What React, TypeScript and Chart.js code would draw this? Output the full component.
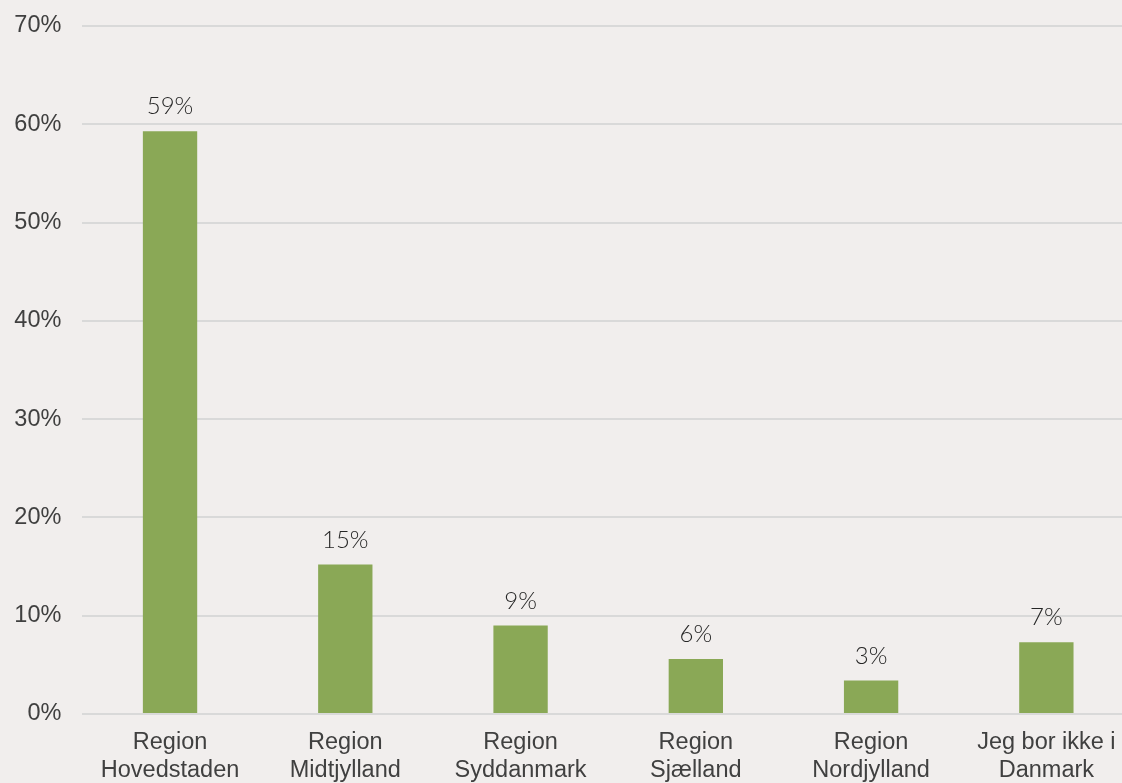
import React, { useEffect, useRef } from "react";
import { Chart, registerables } from "chart.js";

Chart.register(...registerables);

const categories: string[][] = [
  ["Region", "Hovedstaden"],
  ["Region", "Midtjylland"],
  ["Region", "Syddanmark"],
  ["Region", "Sjælland"],
  ["Region", "Nordjylland"],
  ["Jeg bor ikke i", "Danmark"],
];
const values: number[] = [59.3, 15.2, 9.0, 5.6, 3.4, 7.3];
const valueLabels: string[] = ["59%", "15%", "9%", "6%", "3%", "7%"];
const yTicks: number[] = [0, 10, 20, 30, 40, 50, 60, 70];

const BG = "#f1eeed";
const BAR = "#8aa856";
const TEXT = "#404040";
const LABEL_TEXT = "#262626";

const dataLabelPlugin = {
  id: "dataLabels",
  afterDatasetsDraw(chart: any) {
    const ctx = chart.ctx;
    const meta = chart.getDatasetMeta(0);
    ctx.save();
    ctx.font = "300 24px Lato";
    ctx.fillStyle = LABEL_TEXT;
    ctx.textAlign = "center";
    ctx.textBaseline = "alphabetic";
    meta.data.forEach((el: any, i: number) => {
      ctx.fillText(valueLabels[i], el.x, el.y - 17);
    });
    ctx.restore();
  },
};

export default function App() {
  const ref = useRef<HTMLCanvasElement | null>(null);
  useEffect(() => {
    if (!ref.current) return;
    const chart = new Chart(ref.current, {
      type: "bar",
      data: {
        labels: categories,
        datasets: [
          {
            data: values,
            backgroundColor: BAR,
            barPercentage: 0.62,
            categoryPercentage: 0.5,
          },
        ],
      },
      options: {
        animation: false,
        responsive: false,
        maintainAspectRatio: false,
        layout: { padding: { top: 26, left: 0, right: 0, bottom: 0 } },
        plugins: {
          legend: { display: false },
          tooltip: { enabled: false },
        },
        scales: {
          x: {
            grid: { display: false, drawTicks: false },
            border: { display: false },
            ticks: {
              color: TEXT,
              font: { family: "'Liberation Sans', Arial, sans-serif", size: 23.5, lineHeight: 1.2 },
              padding: 14,
              maxRotation: 0,
              autoSkip: false,
            },
            afterFit: (scale: any) => {
              scale.height = 69;
            },
          },
          y: {
            min: 0,
            max: 70,
            afterBuildTicks: (scale: any) => {
              scale.ticks = yTicks.map((v) => ({ value: v }));
            },
            grid: { color: "#d9d9d9", lineWidth: 2, drawTicks: false },
            border: { display: false },
            ticks: {
              color: TEXT,
              font: { family: "'Liberation Sans', Arial, sans-serif", size: 23.5 },
              padding: 21,
              callback: (v: any) => v + "%",
            },
            afterFit: (scale: any) => {
              scale.width = 82.4;
              scale.paddingTop = 0;
              scale.paddingBottom = 0;
            },
          },
        },
      },
      plugins: [dataLabelPlugin],
    });
    return () => chart.destroy();
  }, []);

  return (
    <div
      style={{
        position: "fixed",
        left: 0,
        top: 0,
        width: 1122,
        height: 783,
        overflow: "hidden",
        background: BG,
      }}
    >
      <canvas ref={ref} width={1134} height={783} style={{ display: "block" }} />
    </div>
  );
}
